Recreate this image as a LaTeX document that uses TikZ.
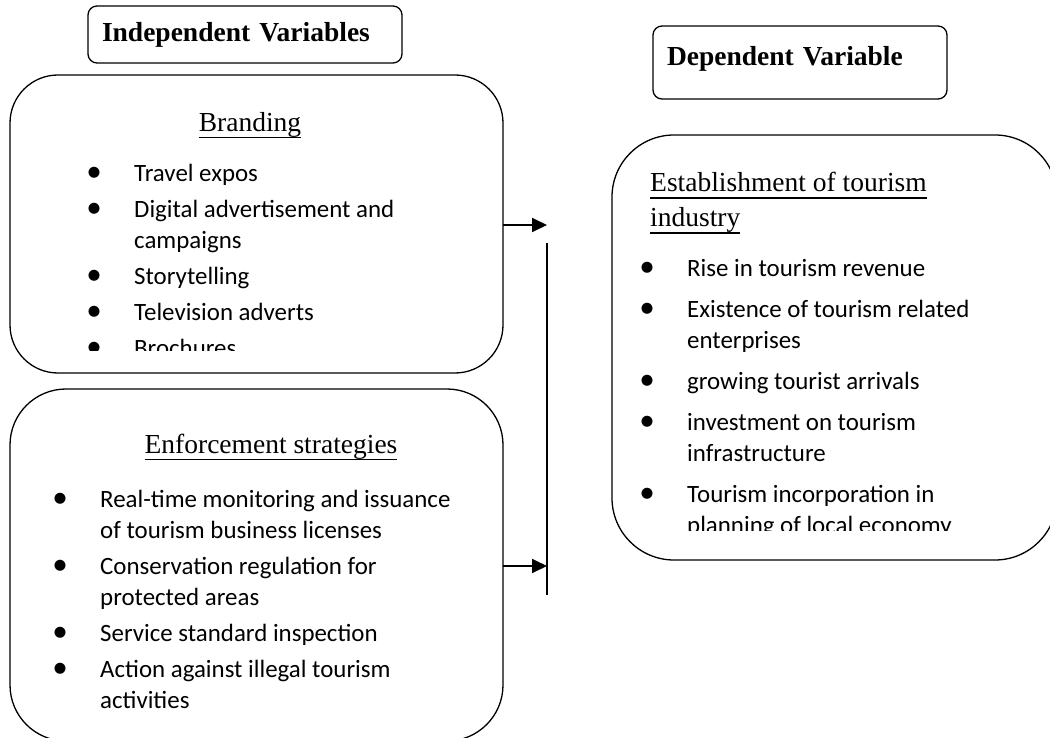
\documentclass[tikz,border=0pt]{standalone}
\usepackage{fontspec}
\usepackage{graphicx}
\setmainfont{Liberation Serif}
\newfontfamily\listfont{Carlito}
\usetikzlibrary{arrows.meta, positioning}

\newcommand{\ulined}[1]{\setbox0\hbox{#1}\rlap{\rule[-7pt]{\wd0}{1.3pt}}\box0}
\newcommand{\bul}{\makebox[0pt]{\raisebox{-0.5pt}{\scalebox{1.25}{\textbullet}}}}

\begin{document}
\begin{tikzpicture}[x=1pt, y=-1pt,
    % Styles
    header/.style={
        rectangle, rounded corners=9pt,
        draw=black, line width=1.3pt,
        inner xsep=14pt, inner ysep=0pt, outer sep=0pt,
        anchor=north west,
        font=\fontsize{27.5}{32}\selectfont\bfseries,
        align=left
    },
    group/.style={
        rectangle, draw=black, line width=1.3pt,
        inner sep=0pt, outer sep=0pt
    },
    title/.style={
        inner sep=0pt,
        font=\fontsize{27.5}{35}\selectfont,
        align=left
    },
    items/.style={
        inner sep=0pt, anchor=north west,
        font=\listfont\fontsize{24.9}{31}\selectfont
    },
    arrow/.style={
        -{Triangle[length=15pt, width=14pt]},
        line width=1.8pt
    },
]
\useasboundingbox (0,0) rectangle (1050,738);
\clip (0,0) rectangle (1050,738);

% Headers
\node[header, text width=286pt, text height=36pt, text depth=21pt] (indep) at (88,6) {Independent Variables};
\node[header, text width=266pt, text height=40pt, text depth=33pt] (dep) at (653,26) {Dependent Variable};

% Group boxes
\node[group, rounded corners=48pt, minimum width=493pt, minimum height=298pt] (brand) at (256.5,224) {};
\node[group, rounded corners=56pt, minimum width=493pt, minimum height=352pt] (enforce) at (256.5,565) {};
\node[group, rounded corners=62pt, minimum width=445pt, minimum height=425pt] (establish) at (834.5,347.5) {};

% Titles
\node[title] (brandtitle) at (250,125) {\ulined{Branding}};
\node[title] (enftitle) at (271,447) {\ulined{Enforcement strategies}};
\node[title, anchor=north west] (esttitle) at (650,172) {\ulined{Establishment of tourism}\\\ulined{industry}};

% Lists
\begin{scope}
    \clip (10,75) rectangle (503,350);
    \node[items] (brandlist) at (94,159.3) {\begin{tabular}{@{}p{40pt}@{}l@{}}
        \bul & Travel expos\\[5pt]
        \bul & Digital advertisement and\\
             & campaigns\\[5pt]
        \bul & Storytelling\\[5pt]
        \bul & Television adverts\\[5pt]
        \bul & Brochures
    \end{tabular}};
\end{scope}
\node[items] (enflist) at (60,485.3) {\begin{tabular}{@{}p{40pt}@{}l@{}}
    \bul & Real-time monitoring and issuance\\
         & of tourism business licenses\\[5pt]
    \bul & Conservation regulation for\\
         & protected areas\\[5pt]
    \bul & Service standard inspection\\[5pt]
    \bul & Action against illegal tourism\\
         & activities
\end{tabular}};
\begin{scope}
    \clip (612,135) rectangle (1057,530);
    \node[items] (estlist) at (647,254.3) {\begin{tabular}{@{}p{40pt}@{}l@{}}
        \bul & Rise in tourism revenue\\[10pt]
        \bul & Existence of tourism related\\
             & enterprises\\[10pt]
        \bul & growing tourist arrivals\\[10pt]
        \bul & investment on tourism\\
             & infrastructure\\[10pt]
        \bul & Tourism incorporation in\\
             & planning of local economy
    \end{tabular}};
\end{scope}

% Connectors
\coordinate (upTip) at (547,225);
\coordinate (lowTip) at (547,566);
\coordinate (barTop) at (547,243);
\coordinate (barBot) at (547,595);
\draw[arrow] (brand.east |- upTip) -- (upTip);
\draw[arrow] (enforce.east |- lowTip) -- (lowTip);
\draw[line width=1.8pt] (barTop) -- (barBot);

\end{tikzpicture}
\end{document}
